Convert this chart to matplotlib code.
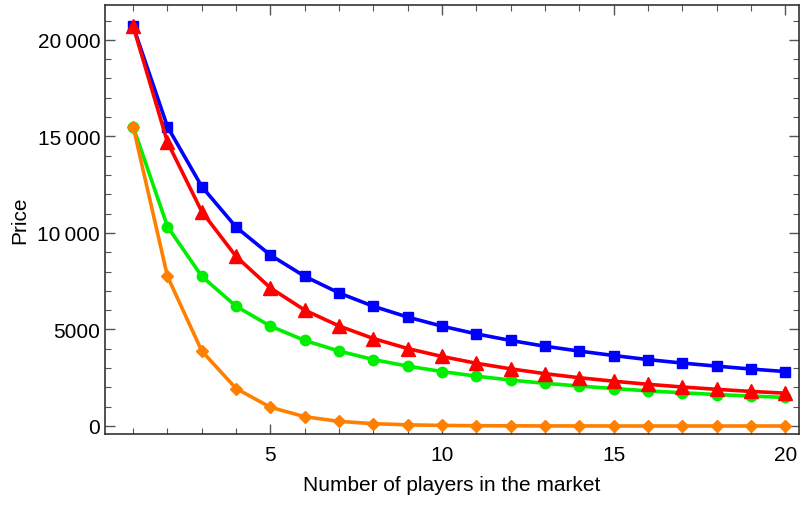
import matplotlib
matplotlib.use("Agg")
import matplotlib.pyplot as plt
from matplotlib.ticker import FixedLocator, FuncFormatter, MultipleLocator

# Data
players = list(range(1, 21))
price_blue = [20700, 15500, 12400, 10300, 8850, 7750, 6890, 6200, 5640, 5170,
              4770, 4430, 4130, 3880, 3650, 3440, 3260, 3100, 2950, 2820]
price_red = [20700, 14700, 11100, 8780, 7150, 6000, 5180, 4530, 4010, 3600,
             3250, 2960, 2710, 2500, 2320, 2160, 2020, 1900, 1790, 1700]
price_green = [15500, 10330, 7750, 6200, 5170, 4430, 3880, 3440, 3100, 2820,
               2580, 2380, 2210, 2070, 1940, 1820, 1720, 1630, 1550, 1480]
price_orange = [15500, 7750, 3880, 1940, 970, 480, 240, 120, 60, 30,
                15, 8, 4, 2, 1, 0, 0, 0, 0, 0]

x_ticks = [5, 10, 15, 20]
y_ticks = [0, 5000, 10000, 15000, 20000]

plt.rcParams['font.family'] = ['Liberation Sans', 'DejaVu Sans']

fig = plt.figure(figsize=(8.06, 5.06), dpi=100)
ax = fig.add_axes([0.1303, 0.1403, 0.861, 0.848])

lw = 2.6
ax.plot(players, price_blue, color="#0000FF", lw=lw, marker="s", ms=7.5, zorder=3)
ax.plot(players, price_green, color="#00EE00", lw=lw, marker="o", ms=7.5, zorder=3)
ax.plot(players, price_red, color="#FF0000", lw=lw, marker="^", ms=10, zorder=4)
ax.plot(players, price_orange, color="#FF8000", lw=lw, marker="D", ms=6.5, zorder=5)

ax.set_xlim(0.18, 20.4)
ax.set_ylim(-415, 21810)

ax.xaxis.set_major_locator(FixedLocator(x_ticks))
ax.xaxis.set_minor_locator(MultipleLocator(1))
ax.yaxis.set_major_locator(FixedLocator(y_ticks))
ax.yaxis.set_minor_locator(MultipleLocator(1000))


def fmt(v, pos):
    v = int(round(v))
    if v >= 10000:
        s = f"{v:,}".replace(",", "\u2009")
        return s
    return str(v)


ax.yaxis.set_major_formatter(FuncFormatter(fmt))

ax.tick_params(which="both", direction="in", top=True, right=True,
               color="#555555", labelsize=15)
ax.tick_params(which="major", length=7, width=1)
ax.tick_params(which="minor", length=4, width=0.8)
ax.tick_params(axis="x", pad=8)
for sp in ax.spines.values():
    sp.set_color("#333333")
    sp.set_linewidth(1.2)

ax.set_xlabel("Number of players in the market", fontsize=15, labelpad=8)
ax.set_ylabel("Price", fontsize=15, labelpad=6)

fig.savefig("out.png", dpi=100)
